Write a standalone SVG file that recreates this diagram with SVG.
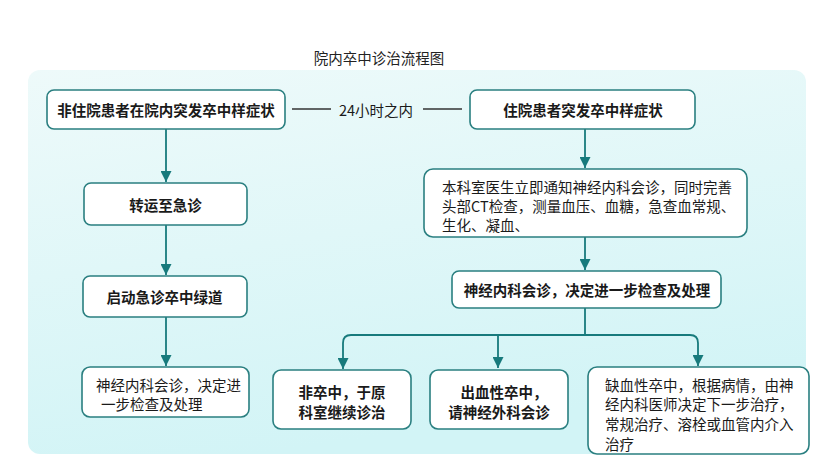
<svg xmlns="http://www.w3.org/2000/svg" width="831" height="467" viewBox="0 0 831 467">
<defs>
<linearGradient id="bg" x1="0" y1="0" x2="0.3" y2="1">
<stop offset="0" stop-color="#eefafa"/>
<stop offset="1" stop-color="#d2f4f6"/>
</linearGradient>
<marker id="ah" markerUnits="userSpaceOnUse" markerWidth="12" markerHeight="11" refX="11" refY="5.5" orient="auto">
<path d="M0,0 L11,5.5 L0,11 z" fill="#177a7c"/>
</marker>
<style>
.box{fill:#ffffff;stroke:#2a7f80;stroke-width:1.6}
.t{font-family:"Noto Sans CJK SC","Noto Sans",sans-serif;font-size:14.5px;fill:#1a1a1a;dominant-baseline:central}
.b{font-weight:bold}
.c{text-anchor:middle}
.ln{fill:none;stroke:#177a7c;stroke-width:1.8}
.dash{fill:none;stroke:#333333;stroke-width:1.3}
.arr{fill:none;stroke:#177a7c;stroke-width:1.8;marker-end:url(#ah)}
</style>
</defs>
<rect x="0" y="0" width="831" height="467" fill="#ffffff"/>
<rect x="28" y="70" width="778" height="384" rx="12" fill="url(#bg)"/>
<text class="t c" x="379" y="57" style="fill:#222">院内卒中诊治流程图</text>

<g id="connectors">
<path class="arr" d="M166,129 V182"/>
<path class="arr" d="M166,225 V275"/>
<path class="arr" d="M166,317 V366"/>
<path class="arr" d="M585,129 V168"/>
<path class="arr" d="M585,237 V270"/>
<path class="ln" d="M585,308 V335"/>
<path class="arr" d="M498,335 V368"/>
<path class="arr" d="M351,335 Q343,335 343,343 V369"/>
<path class="arr" d="M690,335 Q698,335 698,343 V366"/>
<path class="ln" d="M351,335 H690"/>
<path class="dash" d="M292,109 H331"/>
<path class="dash" d="M423,109 H462"/>
</g>
<text class="t" x="339" y="109">24小时之内</text>

<g id="n1">
<rect class="box" x="47" y="90" width="238" height="39" rx="7"/>
<text class="t b c" x="166" y="109.5">非住院患者在院内突发卒中样症状</text>
</g>
<g id="n2">
<rect class="box" x="470" y="90" width="225" height="39" rx="7"/>
<text class="t b c" x="583" y="109.5">住院患者突发卒中样症状</text>
</g>
<g id="n3">
<rect class="box" x="424" y="169" width="323" height="68" rx="9"/>
<text class="t" x="442" y="186">本科室医生立即通知神经内科会诊，同时完善</text>
<text class="t" x="442" y="205">头部CT检查，测量血压、血糖，急查血常规、</text>
<text class="t" x="442" y="224">生化、凝血、</text>
</g>
<g id="n4">
<rect class="box" x="452" y="271" width="269" height="37" rx="7"/>
<text class="t b c" x="587" y="289.5">神经内科会诊，决定进一步检查及处理</text>
</g>
<g id="n5">
<rect class="box" x="84" y="183" width="163" height="42" rx="7"/>
<text class="t b c" x="165.5" y="204">转运至急诊</text>
</g>
<g id="n6">
<rect class="box" x="83" y="276" width="164" height="41" rx="7"/>
<text class="t b c" x="164.5" y="296.5">启动急诊卒中绿道</text>
</g>
<g id="n7">
<rect class="box" x="82" y="367" width="167" height="50" rx="8"/>
<text class="t" x="96" y="384">神经内科会诊，决定进</text>
<text class="t" x="101" y="403.5">一步检查及处理</text>
</g>
<g id="n8">
<rect class="box" x="273" y="370" width="138" height="59" rx="8"/>
<text class="t b c" x="342" y="391">非卒中，于原</text>
<text class="t b c" x="342" y="411">科室继续诊治</text>
</g>
<g id="n9">
<rect class="box" x="430" y="370" width="138" height="59" rx="8"/>
<text class="t b c" x="504" y="391">出血性卒中，</text>
<text class="t b c" x="499" y="411">请神经外科会诊</text>
</g>
<g id="n10">
<rect class="box" x="588" y="367" width="221" height="87" rx="9"/>
<text class="t" x="605" y="384">缺血性卒中，根据病情，由神</text>
<text class="t" x="605" y="403.5">经内科医师决定下一步治疗，</text>
<text class="t" x="605" y="423">常规治疗、溶栓或血管内介入</text>
<text class="t" x="605" y="443">治疗</text>
</g>
</svg>
